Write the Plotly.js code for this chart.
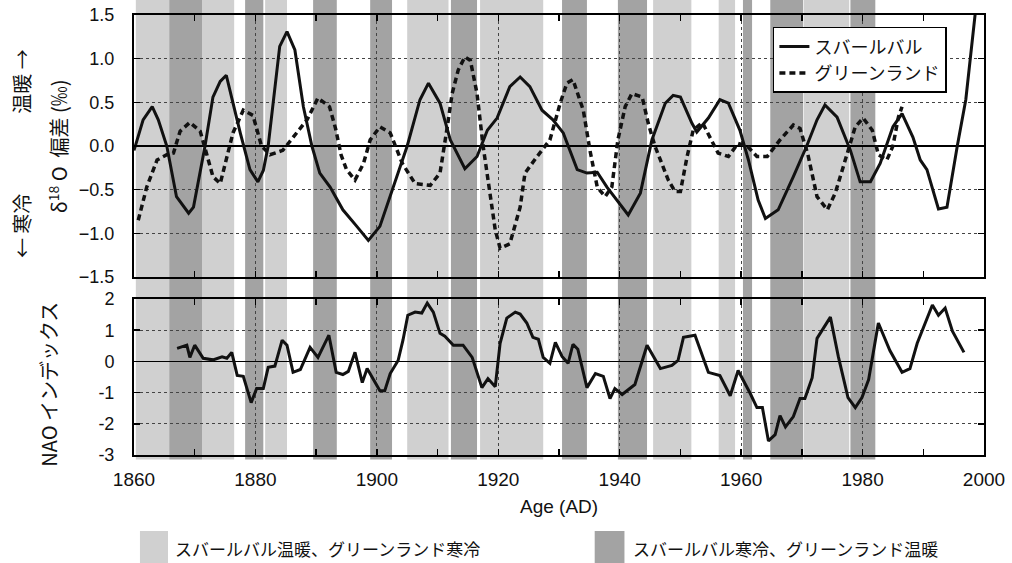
<!DOCTYPE html>
<html>
<head>
<meta charset="utf-8">
<script src="https://cdn.plot.ly/plotly-3.0.1.min.js"></script>
<style>
html,body{margin:0;padding:0;background:#fff;}
#chart{width:1012px;height:563px;}
</style>
</head>
<body>
<div id="chart"></div>
<script>
// ---- data ----
var svalbardYears = [1860,1861.5,1863,1864,1865.4,1867,1869,1869.8,1871.7,1873,1874.2,1875.2,1876.1,1877.5,1879.1,1880.4,1881.3,1882.1,1884,1885.2,1886.5,1887.9,1889.3,1890.6,1892.3,1894.4,1896.7,1898.6,1900.5,1903.3,1905,1907.1,1908.5,1910.4,1912.1,1914.5,1916.5,1918.2,1919.8,1921.9,1923.6,1925.2,1927.2,1929,1930.7,1933,1934.6,1936.3,1937.9,1941.4,1943.4,1945.3,1947.5,1948.8,1950,1951.9,1952.7,1954.6,1956.5,1957.9,1959.8,1961.2,1962.8,1964,1966.1,1968.6,1970.8,1972.5,1973.8,1975.8,1978,1979.6,1981.3,1982.9,1985,1986.5,1988.3,1989.5,1990.6,1992.5,1993.9,1995.6,1997,1999];
var svalbardD18O = [-0.05,0.30,0.45,0.30,0.0,-0.58,-0.77,-0.70,0.0,0.56,0.74,0.81,0.55,0.15,-0.27,-0.41,-0.28,0.0,1.14,1.31,1.10,0.45,0.0,-0.31,-0.47,-0.73,-0.92,-1.08,-0.92,-0.35,0.0,0.53,0.72,0.49,0.07,-0.26,-0.12,0.18,0.32,0.68,0.79,0.68,0.41,0.30,0.15,-0.27,-0.31,-0.30,-0.47,-0.79,-0.54,0.07,0.49,0.58,0.56,0.26,0.16,0.32,0.53,0.49,0.18,-0.16,-0.62,-0.83,-0.73,-0.35,0.0,0.30,0.47,0.33,-0.05,-0.41,-0.41,-0.20,0.22,0.37,0.10,-0.16,-0.27,-0.72,-0.70,0.0,0.53,1.8];

var greenlandYears = [1860.7,1862.1,1863.8,1865.4,1866.5,1867.6,1869.2,1870.9,1872,1873,1874.2,1875,1876.3,1878,1879.6,1881,1882.4,1884.5,1886.8,1888.5,1890.3,1892.2,1893.2,1894.1,1895,1896.4,1897.8,1898.9,1900.5,1902.2,1904.2,1906.3,1908.8,1910.4,1911.6,1912.4,1913.4,1914.5,1915.4,1916.5,1917.5,1918.6,1919.5,1920.3,1921.9,1923.6,1924.4,1926.4,1928.5,1930.2,1931.3,1932.3,1934,1935.1,1936.3,1937.6,1938.7,1939.7,1940.9,1942,1943.7,1944.7,1945.8,1946.7,1948,1949.1,1950,1951.1,1952.1,1953.6,1954.9,1956.2,1957.9,1959.5,1961,1962.6,1964.3,1966.4,1968.6,1969.7,1971,1972.5,1974.2,1975.5,1977.5,1978.8,1980.1,1981.6,1982.6,1984,1985,1985.9,1986.5];
var greenlandD18O = [-0.85,-0.47,-0.16,-0.10,-0.08,0.17,0.27,0.17,-0.10,-0.35,-0.43,-0.22,0.15,0.41,0.35,0.0,-0.10,-0.05,0.15,0.30,0.55,0.45,0.20,-0.10,-0.27,-0.39,-0.20,0.07,0.22,0.15,-0.20,-0.43,-0.45,-0.31,0.22,0.60,0.87,1.02,0.98,0.60,0.0,-0.54,-0.96,-1.17,-1.12,-0.70,-0.31,-0.12,0.07,0.49,0.72,0.76,0.41,-0.05,-0.47,-0.58,-0.47,0.07,0.45,0.60,0.56,0.26,0.0,-0.16,-0.39,-0.52,-0.52,-0.12,0.18,0.27,0.10,-0.08,-0.12,0.03,0.0,-0.12,-0.12,0.07,0.24,0.20,-0.10,-0.58,-0.73,-0.54,-0.08,0.22,0.32,0.18,-0.10,-0.16,0.0,0.33,0.45];

var naoYears = [1867.1,1868.7,1869.2,1870,1871.4,1873,1874.5,1875.3,1876.1,1877,1878,1879.3,1880.2,1881.3,1882.1,1883.2,1884.4,1885.2,1886.2,1887.4,1889,1890.3,1892.1,1893.3,1894.4,1895.3,1896.4,1897.6,1898.4,1900.5,1901.3,1902.2,1903.5,1904.3,1905.1,1906.3,1907.4,1908.3,1909.3,1910.4,1911.2,1912.6,1914.2,1915.7,1917.3,1918.3,1919.5,1920.3,1921.4,1922.8,1923.6,1924.7,1925.7,1926.6,1927.4,1928.5,1929.4,1930.5,1931.5,1932.3,1933.1,1934.6,1936,1937.3,1938.4,1939.2,1940.4,1942.5,1944.5,1946.7,1948.6,1949.6,1950.5,1952.4,1954.6,1956.5,1958.2,1959.5,1961.5,1962.6,1963.5,1964.5,1965.6,1966.4,1967.3,1968.6,1969.7,1970.5,1971.7,1972.5,1974.7,1976,1977.6,1978.8,1979.9,1981,1982.6,1984.5,1986.5,1987.8,1989,1991.5,1992.5,1993.6,1994.8,1996.7];
var naoIndex = [0.42,0.52,0.13,0.52,0.10,0.05,0.15,0.10,0.29,-0.45,-0.48,-1.32,-0.87,-0.87,-0.19,-0.15,0.68,0.52,-0.35,-0.26,0.45,0.13,0.84,-0.35,-0.42,-0.32,0.29,-0.68,-0.23,-0.94,-0.94,-0.39,0.03,0.68,1.48,1.58,1.55,1.87,1.58,0.90,0.81,0.52,0.52,0.13,-0.84,-0.55,-0.81,0.58,1.39,1.58,1.52,1.23,0.77,0.71,0.13,-0.06,0.61,0.16,-0.06,0.55,0.39,-0.84,-0.39,-0.48,-1.19,-0.87,-1.06,-0.74,0.52,-0.23,-0.13,0.03,0.77,0.84,-0.35,-0.45,-1.10,-0.29,-1.03,-1.48,-1.48,-2.55,-2.35,-1.74,-2.10,-1.77,-1.19,-1.19,-0.52,0.74,1.42,0.16,-1.16,-1.48,-1.16,-0.58,1.23,0.35,-0.35,-0.23,0.58,1.81,1.48,1.71,0.97,0.29];

// Svalbard warm / Greenland cold periods (light)
var lightBandStart = [1860.3,1871.2,1881.6,1905.0,1917.0,1945.5,1956.3,1970.3];
var lightBandEnd   = [1865.8,1876.5,1885.2,1911.8,1927.4,1951.8,1959.0,1977.8];
// Svalbard cold / Greenland warm periods (dark)
var darkBandStart = [1865.8,1878.3,1889.5,1898.9,1912.2,1930.5,1939.7,1960.3,1964.8,1978.0];
var darkBandEnd   = [1871.2,1881.3,1893.4,1902.5,1916.5,1934.6,1944.5,1961.8,1970.2,1982.1];

var seriesNames = ['スバールバル', 'グリーンランド'];
var bandLabels = ['スバールバル温暖、グリーンランド寒冷', 'スバールバル寒冷、グリーンランド温暖'];
var topTicks = [-1.5,-1.0,-0.5,0,0.5,1.0,1.5];
var naoTicks = [-3,-2,-1,0,1,2];
var naoTickText = ['-3','-2','-1','0','1','2'];
var xTicks = [1860,1880,1900,1920,1940,1960,1980,2000];
var xMinorTicks = [1870,1890,1910,1930,1950,1970,1990];

// ---- styles ----
var LIGHT = '#d0d0d0', DARK = '#a3a3a3';
var CJK = 'Noto Sans CJK JP, Noto Sans, sans-serif';
var NARROW = 'Liberation Sans Narrow, Liberation Sans, Arial, sans-serif';
var SANS = 'Liberation Sans, Arial, sans-serif';

var shapes = [];
function addBands(starts, ends, color) {
  for (var i = 0; i < starts.length; i++) {
    shapes.push({type:'rect', xref:'x', yref:'paper', x0:starts[i], x1:ends[i], y0:-0.01, y1:1.034,
      fillcolor:color, line:{width:0}, layer:'below'});
  }
}
addBands(lightBandStart, lightBandEnd, LIGHT);
addBands(darkBandStart, darkBandEnd, DARK);
// band legend swatches
shapes.push({type:'rect', xref:'paper', yref:'paper', x0:0.007, x1:0.040, y0:-0.25, y1:-0.173, fillcolor:LIGHT, line:{width:0}});
shapes.push({type:'rect', xref:'paper', yref:'paper', x0:0.542, x1:0.577, y0:-0.25, y1:-0.173, fillcolor:DARK, line:{width:0}});

var traces = [
  {x:svalbardYears, y:svalbardD18O, type:'scatter', mode:'lines', name:seriesNames[0],
   line:{color:'#111', width:3}, xaxis:'x', yaxis:'y'},
  {x:greenlandYears, y:greenlandD18O, type:'scatter', mode:'lines', name:seriesNames[1],
   line:{color:'#111', width:3.5, dash:'6px,4px'}, xaxis:'x', yaxis:'y'},
  {x:naoYears, y:naoIndex, type:'scatter', mode:'lines', name:'NAO', showlegend:false,
   line:{color:'#111', width:3}, xaxis:'x2', yaxis:'y2'}
];

var axCommon = {
  showline:true, linecolor:'#000', linewidth:2, mirror:'allticks',
  ticks:'inside', ticklen:6, tickwidth:1.5, tickcolor:'#000',
  showgrid:true, gridcolor:'#444', gridwidth:1, griddash:'dot'
};
function ax(extra) { var o = {}; for (var k in axCommon) o[k] = axCommon[k]; for (var k2 in extra) o[k2] = extra[k2]; return o; }

var xBase = {range:[1860,2000], tickvals:xTicks, zeroline:false,
  minor:{tickvals:xMinorTicks, ticks:'inside', ticklen:6, tickwidth:1.5, tickcolor:'#000', showgrid:false}};

var layout = {
  width:1012, height:563,
  margin:{l:134, r:28, t:15, b:108},
  paper_bgcolor:'#fff', plot_bgcolor:'rgba(0,0,0,0)',
  showlegend:true,
  legend:{x:0.854, y:0.973, xanchor:'center', yanchor:'top', bgcolor:'#fff', bordercolor:'#000', borderwidth:1.5,
    font:{family:CJK, size:18, color:'#111'}, tracegroupgap:0},
  xaxis: ax(Object.assign({}, xBase, {domain:[0,1], anchor:'y', showticklabels:false})),
  yaxis: ax({domain:[0.4045,1], anchor:'x', range:[-1.5,1.5], tickvals:topTicks, tickformat:'.1f',
    zeroline:true, zerolinecolor:'#000', zerolinewidth:1.5,
    tickfont:{family:SANS, size:18, color:'#111'}, ticklabelstandoff:14}),
  xaxis2: ax(Object.assign({}, xBase, {domain:[0,1], anchor:'y2', matches:'x', showticklabels:true,
    tickfont:{family:NARROW, size:19, color:'#111'}, ticklabelstandoff:6})),
  yaxis2: ax({domain:[0,0.3545], anchor:'x2', range:[-3,2], tickvals:naoTicks, ticktext:naoTickText,
    zeroline:true, zerolinecolor:'#000', zerolinewidth:1.5,
    tickfont:{family:SANS, size:18, color:'#111'}, ticklabelstandoff:14}),
  shapes:shapes,
  annotations:[
    {text:'δ<sup>18</sup> O  偏差 (‰)', xref:'paper', yref:'paper', x:-0.0894, y:0.702, textangle:-90,
     xanchor:'center', yanchor:'middle', showarrow:false, font:{family:CJK, size:20, color:'#111'}},
    {text:'← 寒冷　　　　温暖 →', xref:'paper', yref:'paper', x:-0.133, y:0.686, textangle:-90,
     xanchor:'center', yanchor:'middle', showarrow:false, font:{family:CJK, size:20, color:'#111'}},
    {text:'NAO インデックス', xref:'paper', yref:'paper', x:-0.101, y:0.16, textangle:-90,
     xanchor:'center', yanchor:'middle', showarrow:false, font:{family:CJK, size:20, color:'#111'}},
    {text:'Age (AD)', xref:'paper', yref:'paper', x:0.5, y:-0.118, xanchor:'center', yanchor:'middle',
     showarrow:false, font:{family:NARROW, size:19, color:'#111'}},
    {text:bandLabels[0], xref:'paper', yref:'paper', x:0.046, y:-0.213, xanchor:'left', yanchor:'middle',
     showarrow:false, font:{family:CJK, size:17, color:'#111'}},
    {text:bandLabels[1], xref:'paper', yref:'paper', x:0.585, y:-0.213, xanchor:'left', yanchor:'middle',
     showarrow:false, font:{family:CJK, size:17, color:'#111'}}
  ]
};

Plotly.newPlot('chart', traces, layout, {staticPlot:true, displayModeBar:false});
</script>
</body>
</html>
